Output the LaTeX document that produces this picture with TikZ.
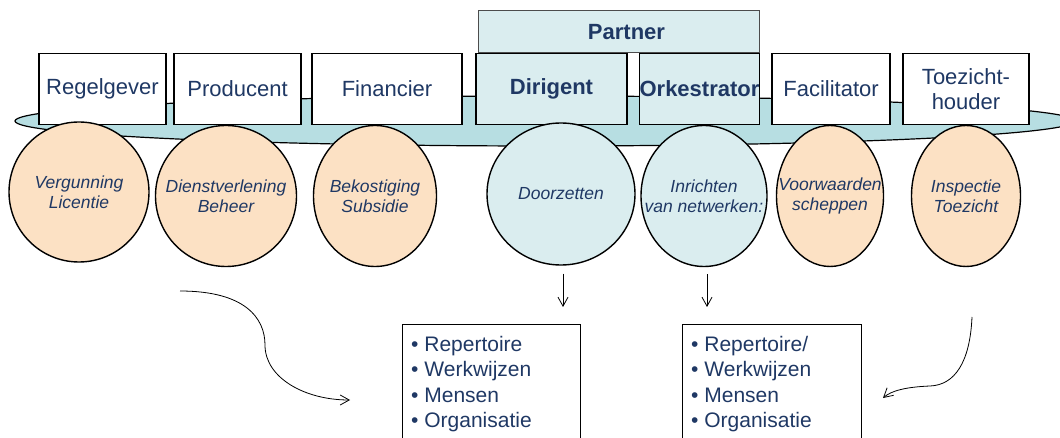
\documentclass[tikz,border=0pt]{standalone}
\usepackage{fontspec}
\setmainfont{Liberation Sans}
\usetikzlibrary{arrows.meta}
\usetikzlibrary{shapes.geometric}

\definecolor{navytxt}{RGB}{31,56,100}
\definecolor{bandteal}{RGB}{183,222,226}
\definecolor{paleteal}{RGB}{218,237,239}
\definecolor{peach}{RGB}{252,225,196}

\tikzset{
  rolebox/.style={draw, line width=1.8pt, fill=white, minimum height=71pt, inner sep=0pt,
    text=navytxt, font=\fontsize{22}{25}\selectfont},
  keybox/.style={rolebox, fill=paleteal, font=\fontsize{22}{25}\selectfont\bfseries},
  taskcirc/.style={ellipse, draw, line width=1.4pt, fill=peach, inner sep=0pt},
  tasktxt/.style={align=center, text=navytxt, font=\fontsize{17.5}{20}\selectfont\itshape, inner sep=0pt},
  listtxt/.style={align=left, text=navytxt, font=\fontsize{21}{25.5}\selectfont, inner sep=0pt, anchor=north west},
  flow/.style={-{Straight Barb[length=9pt,width=10pt]}, line width=0.8pt},
}

\begin{document}
\begin{tikzpicture}[x=1pt, y=-1pt]
\useasboundingbox (0,0) rectangle (1060,438);
\clip (0,0) rectangle (1060,438);

% band under the roles
\path[draw, line width=1.2pt, fill=bandteal] (545,121) ellipse [x radius=530, y radius=25];

% roles
\node[keybox, minimum width=281pt, minimum height=42pt, line width=1pt, draw=black!70, text depth=0pt] (partner) at (618.5,32) {\hspace*{16pt}Partner};
\node[rolebox, minimum width=127pt] (regel) at (102.5,89) {Regelgever};
\node[rolebox, minimum width=127pt] (prod) at (237.5,89) {Producent};
\node[rolebox, minimum width=150pt] (fin) at (387,89) {Financier};
\node[keybox, minimum width=151pt] (dirig) at (551.5,89) {Dirigent};
\node[keybox, minimum width=119pt] (orkest) at (699.5,89) {Orkestrator};
\node[rolebox, minimum width=118pt] (facil) at (831,89) {Facilitator};
\node[rolebox, minimum width=126pt, align=center] (toez) at (966,89) {Toezicht-\\houder};

% tasks
\node[taskcirc, minimum width=140pt, minimum height=140pt] (verg) at (79,192) {};
\node[taskcirc, minimum width=141pt, minimum height=141pt] (dienst) at (226,196) {};
\node[taskcirc, minimum width=123pt, minimum height=141pt] (bekost) at (375,196) {};
\node[taskcirc, fill=paleteal, minimum width=148pt, minimum height=142pt] (doorz) at (561,194) {};
\node[taskcirc, fill=paleteal, minimum width=126pt, minimum height=141pt] (inricht) at (704,196) {};
\node[taskcirc, minimum width=107pt, minimum height=141pt] (voorw) at (830,196) {};
\node[taskcirc, minimum width=109pt, minimum height=141pt] (insp) at (966,196) {};

\node[tasktxt] (vergTxt) at (verg) {Vergunning\\Licentie};
\node[tasktxt] (dienstTxt) at (dienst) {Dienstverlening\\Beheer};
\node[tasktxt] (bekostTxt) at (bekost) {Bekostiging\\Subsidie};
\node[tasktxt] (doorzTxt) at (doorz) {Doorzetten};
\node[tasktxt] (inrichtTxt) at (inricht) {Inrichten\\van netwerken:};
\node[tasktxt] (voorwTxt) at (voorw) {Voorwaarden\\scheppen};
\node[tasktxt] (inspTxt) at (insp) {Inspectie\\Toezicht};

% lists
\node[minimum width=178pt, minimum height=130pt, anchor=north west, inner sep=0pt] (frameL) at (402,324) {};
\node[minimum width=179pt, minimum height=130pt, anchor=north west, inner sep=0pt] (frameR) at (682,324) {};
\draw[line width=1pt] (frameL.south west) |- (frameL.north east) -- (frameL.south east);
\draw[line width=1pt] (frameR.south west) |- (frameR.north east) -- (frameR.south east);
\node[listtxt] (itemsL) at (411,336) {\textbullet\ Repertoire\\\textbullet\ Werkwijzen\\\textbullet\ Mensen\\\textbullet\ Organisatie};
\node[listtxt] (itemsR) at (691,336) {\textbullet\ Repertoire/\\\textbullet\ Werkwijzen\\\textbullet\ Mensen\\\textbullet\ Organisatie};

% arrows
\coordinate (doorzEnd) at (563,307);
\coordinate (inrichtEnd) at (707,307);
\draw[flow, shorten <=8pt] (doorz.south -| doorzEnd) -- (doorzEnd);
\draw[flow, shorten <=7pt] (inricht.south -| inrichtEnd) -- (inrichtEnd);

\coordinate (leftFrom) at (180,291);
\coordinate (leftTo) at (350,400);
\draw[flow] (leftFrom) .. controls (245,291) and (265,318) .. (265,345)
  .. controls (265,378) and (305,400) .. (leftTo);

\coordinate (rightFrom) at (972,317);
\coordinate (rightTo) at (883,398);
\draw[flow] (rightFrom) .. controls (970,362) and (955,385) .. (930,386)
  .. controls (905,387) and (891,391) .. (rightTo);
\end{tikzpicture}
\end{document}
